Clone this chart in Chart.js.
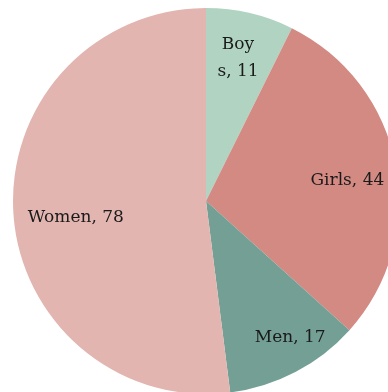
<!DOCTYPE html>
<html lang="en">
<head>
    <meta charset="UTF-8">
    <title>Family members</title>
    <style>
        html, body {
            margin: 0;
            padding: 0;
            background: #ffffff;
            overflow: hidden;
            width: 388px;
            height: 392px;
        }
        #pie {
            position: absolute;
            left: 0;
            top: 0;
        }
    </style>
</head>
<body>
    <canvas id="pie" width="412" height="402"></canvas>
    <script src="https://cdn.jsdelivr.net/npm/chart.js"></script>
    <script>
        const categories = ['Boys', 'Girls', 'Men', 'Women'];
        const counts = [11, 44, 17, 78];
        const sliceColors = ['#b1d3c2', '#d38a83', '#739f95', '#e2b5b0'];

        // label placement: fraction of radius and angle nudge (degrees), plus optional line break
        const labelRadius = [0.76, 0.74, 0.83, 0.68];
        const labelNudge = [-0.6, 2.7, -4.1, -3.8];
        const labelBreak = [3, 0, 0, 0];

        const sliceLabels = {
            id: 'sliceLabels',
            afterDatasetsDraw(chart) {
                const ctx = chart.ctx;
                const arcs = chart.getDatasetMeta(0).data;
                ctx.save();
                ctx.font = '17px "DejaVu Serif", serif';
                ctx.fillStyle = '#1a1a1a';
                ctx.textAlign = 'center';
                ctx.textBaseline = 'middle';
                arcs.forEach((arc, i) => {
                    const mid = (arc.startAngle + arc.endAngle) / 2 + labelNudge[i] * Math.PI / 180;
                    const r = arc.outerRadius * labelRadius[i];
                    const x = arc.x + Math.cos(mid) * r;
                    const y = arc.y + Math.sin(mid) * r;
                    const text = categories[i] + ', ' + counts[i];
                    let lines = [text];
                    if (labelBreak[i]) {
                        lines = [text.slice(0, labelBreak[i]), text.slice(labelBreak[i])];
                    }
                    const lh = 27;
                    lines.forEach((line, j) => {
                        ctx.fillText(line, x, y + (j - (lines.length - 1) / 2) * lh);
                    });
                });
                ctx.restore();
            }
        };

        new Chart(document.getElementById('pie'), {
            type: 'pie',
            data: {
                labels: categories,
                datasets: [{
                    data: counts,
                    backgroundColor: sliceColors,
                    borderWidth: 0
                }]
            },
            options: {
                responsive: false,
                animation: false,
                layout: { padding: 8 },
                plugins: {
                    legend: { display: false },
                    tooltip: { enabled: false }
                }
            },
            plugins: [sliceLabels]
        });
    </script>
</body>
</html>
